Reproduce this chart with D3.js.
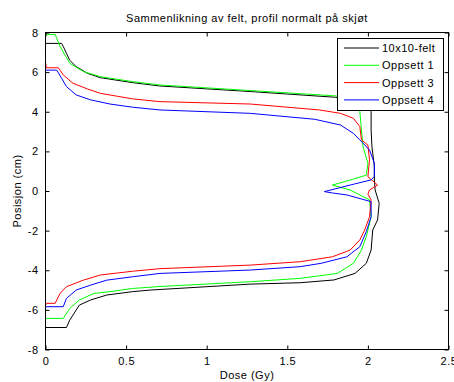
<!DOCTYPE html>
<html>
<head>
<meta charset="utf-8">
<script src="https://cdn.jsdelivr.net/npm/d3@7"></script>
<style>
  html, body { margin: 0; padding: 0; background: #fff; }
  svg { display: block; }
  text { font-family: "Liberation Sans", Arial, sans-serif; font-size: 11px; letter-spacing: 0.5px; fill: #000; }
</style>
</head>
<body>
<script>
// Dose profiles across the junction: position (cm) against dose (Gy)
const xTicks = [0, 0.5, 1, 1.5, 2, 2.5];
const yTicks = [-8, -6, -4, -2, 0, 2, 4, 6, 8];
const xTickLabels = ["0", "0.5", "1", "1.5", "2", "2.5"];
const yTickLabels = ["-8", "-6", "-4", "-2", "0", "2", "4", "6", "8"];

const seriesNames = ["10x10-felt", "Oppsett 1", "Oppsett 3", "Oppsett 4"];
const seriesColors = ["#000000", "#00ff00", "#ff0000", "#0000ff"];

// 10x10-felt
const feltDose = [0, 0.10, 0.11, 0.13, 0.15, 0.19, 0.26, 0.34, 0.54, 0.71, 1.27, 1.80, 1.95, 2.01, 2.02, 2.02, 2.025, 2.04, 2.04, 2.045, 2.07, 2.06, 2.03, 2.02, 1.99, 1.92, 1.79, 1.58, 1.27, 0.65, 0.54, 0.38, 0.28, 0.21, 0.15, 0.13, 0];
const feltPos  = [7.45, 7.45, 7.3, 6.95, 6.6, 6.28, 5.94, 5.72, 5.47, 5.3, 5.02, 4.73, 4.6, 4.4, 4.0, 3.08, 2.24, 1.23, 0.56, 0.05, -0.62, -1.46, -1.97, -2.98, -3.65, -4.16, -4.49, -4.63, -4.70, -5.0, -5.08, -5.25, -5.5, -5.76, -6.52, -6.89, -6.89];

// Oppsett 1
const opp1Dose = [0, 0.06, 0.09, 0.15, 0.235, 0.34, 0.54, 0.71, 1.27, 1.80, 1.92, 1.95, 1.96, 1.97, 2.0, 1.99, 1.91, 1.78, 1.89, 2.01, 2.02, 1.99, 1.96, 1.91, 1.81, 1.58, 1.27, 0.71, 0.54, 0.40, 0.30, 0.21, 0.15, 0.11, 0];
const opp1Pos  = [7.9, 7.9, 7.3, 6.45, 6.03, 5.77, 5.52, 5.35, 5.07, 4.8, 4.6, 4.03, 3.08, 2.24, 1.4, 0.8, 0.6, 0.3, 0.05, -0.45, -1.3, -2.3, -2.98, -3.65, -4.16, -4.41, -4.58, -4.82, -4.92, -5.08, -5.17, -5.5, -5.93, -6.43, -6.43];

// Oppsett 3
const opp3Dose = [0, 0.005, 0.08, 0.11, 0.17, 0.26, 0.34, 0.54, 0.71, 1.27, 1.70, 1.83, 1.91, 1.95, 1.96, 2.0, 2.01, 2.0, 2.06, 2.01, 2.0, 2.02, 2.01, 1.98, 1.95, 1.89, 1.78, 1.58, 1.27, 0.71, 0.54, 0.34, 0.235, 0.13, 0.09, 0.06, 0.005, 0];
const opp3Pos  = [6.5, 6.22, 6.22, 5.86, 5.44, 5.15, 4.93, 4.65, 4.51, 4.39, 4.09, 3.92, 3.67, 3.25, 2.58, 2.32, 1.57, 0.72, 0.3, 0.05, -0.15, -0.45, -1.3, -1.97, -2.47, -2.98, -3.32, -3.57, -3.74, -3.92, -4.05, -4.24, -4.5, -4.83, -5.17, -5.67, -5.67, -5.8];

// Oppsett 4
const opp4Dose = [0, 0.07, 0.10, 0.13, 0.19, 0.28, 0.40, 0.54, 0.71, 1.27, 1.67, 1.83, 1.91, 1.95, 2.01, 2.04, 2.04, 2.02, 1.89, 1.73, 1.78, 1.87, 2.02, 2.02, 1.99, 1.95, 1.87, 1.71, 1.58, 1.27, 0.71, 0.54, 0.38, 0.28, 0.19, 0.13, 0.11, 0];
const opp4Pos  = [6.1, 6.1, 5.69, 5.27, 4.85, 4.6, 4.39, 4.23, 4.09, 3.92, 3.62, 3.33, 2.91, 2.58, 2.07, 1.4, 0.72, 0.56, 0.3, -0.03, -0.1, -0.2, -0.54, -1.3, -2.05, -2.81, -3.32, -3.65, -3.82, -3.99, -4.16, -4.33, -4.5, -4.75, -5.0, -5.42, -5.84, -5.84];

const doseArrays = [feltDose, opp1Dose, opp3Dose, opp4Dose];
const posArrays = [feltPos, opp1Pos, opp3Pos, opp4Pos];

const W = 454, H = 382;
const plotLeft = 45.5, plotRight = 448.5, plotTop = 32.5, plotBottom = 349.5;

const svg = d3.select("body").append("svg").attr("width", W).attr("height", H);

const x = d3.scaleLinear().domain([0, 2.5]).range([plotLeft, plotRight]);
const y = d3.scaleLinear().domain([-8, 8]).range([plotBottom, plotTop]);

svg.append("clipPath").attr("id", "clip")
  .append("rect").attr("x", plotLeft).attr("y", plotTop)
  .attr("width", plotRight - plotLeft).attr("height", plotBottom - plotTop);

const line = d3.line().x(d => x(d[0])).y(d => y(d[1]));

const curves = svg.append("g").attr("clip-path", "url(#clip)");
seriesNames.forEach((name, i) => {
  const pts = doseArrays[i].map((d, k) => [d, posArrays[i][k]]);
  curves.append("path")
    .datum(pts)
    .attr("d", line)
    .attr("fill", "none")
    .attr("stroke", seriesColors[i])
    .attr("stroke-width", 1)
    .attr("stroke-linejoin", "round");
});

// Axes with inward ticks on all four sides
function styleAxis(g) {
  g.select(".domain").remove();
  g.selectAll(".tick line").attr("stroke", "#000");
  g.selectAll(".tick text").attr("fill", "#000");
  g.attr("font-family", null).attr("font-size", null);
}

svg.append("g").attr("transform", `translate(0,${plotBottom})`)
  .call(d3.axisBottom(x).tickValues(xTicks).tickFormat((d, i) => xTickLabels[i]).tickSizeInner(-4).tickSizeOuter(0).tickPadding(8))
  .call(styleAxis);
svg.append("g").attr("transform", `translate(0,${plotTop})`)
  .call(d3.axisTop(x).tickValues(xTicks).tickFormat("").tickSizeInner(-4).tickSizeOuter(0))
  .call(styleAxis);
svg.append("g").attr("transform", `translate(${plotLeft},0)`)
  .call(d3.axisLeft(y).tickValues(yTicks).tickFormat((d, i) => yTickLabels[i]).tickSizeInner(-4).tickSizeOuter(0).tickPadding(7))
  .call(styleAxis);
svg.append("g").attr("transform", `translate(${plotRight},0)`)
  .call(d3.axisRight(y).tickValues(yTicks).tickFormat("").tickSizeInner(-4).tickSizeOuter(0))
  .call(styleAxis);

svg.append("rect")
  .attr("x", plotLeft).attr("y", plotTop)
  .attr("width", plotRight - plotLeft).attr("height", plotBottom - plotTop)
  .attr("fill", "none").attr("stroke", "#000").attr("stroke-width", 1);

// Title and axis labels
svg.append("text").attr("x", (plotLeft + plotRight) / 2).attr("y", 21.5)
  .attr("text-anchor", "middle").text("Sammenlikning av felt, profil normalt på skjøt");
svg.append("text").attr("x", (plotLeft + plotRight) / 2).attr("y", 379)
  .attr("text-anchor", "middle").text("Dose (Gy)");
svg.append("text").attr("transform", `translate(21,${y(0)}) rotate(-90)`)
  .attr("text-anchor", "middle").text("Posisjon (cm)");

// Legend
const lg = svg.append("g");
lg.append("rect").attr("x", 337.5).attr("y", 38.5).attr("width", 106).attr("height", 72)
  .attr("fill", "#fff").attr("stroke", "#000").attr("stroke-width", 1);
seriesNames.forEach((name, i) => {
  const cy = 48 + i * 17.3;
  lg.append("line").attr("x1", 344).attr("x2", 379).attr("y1", cy).attr("y2", cy)
    .attr("stroke", seriesColors[i]).attr("stroke-width", 1);
  lg.append("text").attr("x", 382).attr("y", cy + 4).text(name);
});
</script>
</body>
</html>
